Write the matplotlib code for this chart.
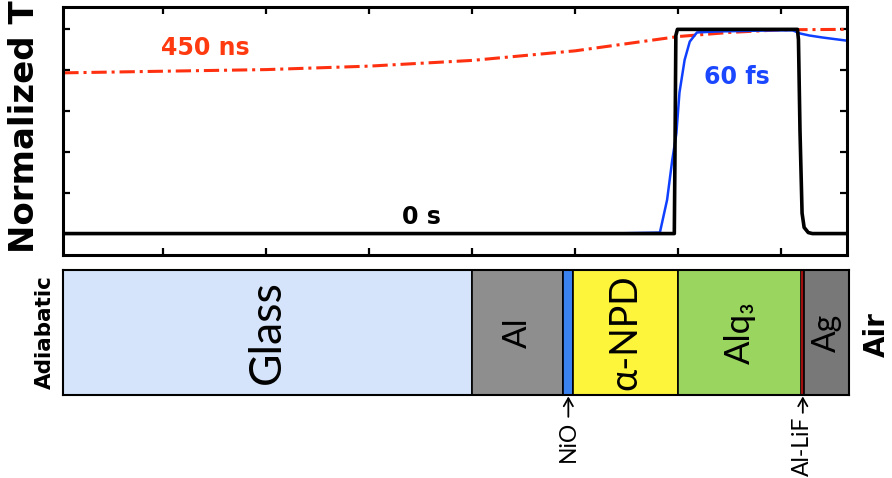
import numpy as np
import matplotlib
matplotlib.use('Agg')
import matplotlib.pyplot as plt

# temperature profiles (normalized T) across the device depth
x_0s = [0.03, 5.96, 5.965, 5.975, 5.99, 7.155, 7.165, 7.18, 7.20, 7.22, 7.26, 7.30, 7.64]
y_0s = [0.0, 0.0, 0.3, 0.97, 1.0, 1.0, 0.95, 0.5, 0.1, 0.03, 0.005, 0.0, 0.0]

x_60fs = [5.31, 5.82, 5.89, 5.94, 5.98, 6.01, 6.06, 6.11, 6.18, 6.4, 6.92, 7.11, 7.18, 7.27, 7.40, 7.63]
y_60fs = [0.0, 0.005, 0.165, 0.36, 0.49, 0.69, 0.85, 0.94, 0.985, 0.99, 0.995, 0.995, 0.98, 0.97, 0.96, 0.945]

x_450ns = [0.03, 1.0, 2.0, 3.0, 4.0, 5.0, 6.0, 6.5, 7.0, 7.64]
y_450ns = [0.787, 0.795, 0.803, 0.82, 0.848, 0.895, 0.965, 0.985, 0.998, 1.0]

# device layer stack
layer_names = ['Glass', 'Al', 'NiO', 'α-NPD', 'Alq₃', 'Al-LiF', 'Ag']
layer_edges = [0.03, 3.995, 4.88, 4.98, 5.995, 7.19, 7.22, 7.655]
layer_colors = ['#d5e4fa', '#8e8e8e', '#3a82f0', '#fcf53c', '#9ad55f', '#a01010', '#787878']
layer_fs = [32, 24, 0, 27, 25, 0, 23]

fig = plt.figure(figsize=(8.92, 4.78), dpi=100)
ax = fig.add_axes([0.071, 0.4665, 0.879, 0.5195])
ax2 = fig.add_axes([0.071, 0.1736, 0.881, 0.2615])

ax.plot(x_450ns, y_450ns, color='#ff3010', lw=2.2, ls=(0, (5, 1.6, 1, 1.6)))
ax.plot(x_60fs, y_60fs, color='#1040ff', lw=1.8)
ax.plot(x_0s, y_0s, color='black', lw=2.6, solid_joinstyle='round')

ax.text(1.41, 0.91, '450 ns', color='#ff3a10', fontsize=17, fontweight='bold', ha='center', va='center')
ax.text(6.57, 0.767, '60 fs', color='#1a47ff', fontsize=17, fontweight='bold', ha='center', va='center')
ax.text(3.51, 0.08, '0 s', color='black', fontsize=17, fontweight='bold', ha='center', va='center')

ax.set_xlim(0.03, 7.64)
ax.set_ylim(-0.105, 1.111)
ax.set_xticks(range(1, 8))
ax.set_yticks([0.2, 0.4, 0.6, 0.8, 1.0])
ax.tick_params(direction='in', length=5, width=1.6, top=True, right=True,
               labelbottom=False, labelleft=False)
for s in ax.spines.values():
    s.set_linewidth(2.2)

fig.text(0.028, 0.735, 'Normalized T', rotation=90, fontsize=24.5, fontweight='bold',
         ha='center', va='center')

# layers
starts = np.array(layer_edges[:-1])
widths = np.diff(layer_edges)
ax2.bar(starts, 1, width=widths, align='edge', color=layer_colors,
        edgecolor=['black', 'black', 'black', 'black', 'black', 'none', 'black'], lw=1.2)
for name, s, w, fs in zip(layer_names, starts, widths, layer_fs):
    if fs:
        ax2.text(s + w / 2, 0.5, name, rotation=90, fontsize=fs, ha='center', va='center',
                 family=['Lato', 'DejaVu Sans'])

for name, i, off in [('NiO', 2, -26), ('Al-LiF', 5, -22)]:
    xc = starts[i] + widths[i] / 2
    ax2.annotate(name, xy=(xc, 0), xycoords=('data', 'axes fraction'),
                 xytext=(0, off), textcoords='offset pixels', rotation=90,
                 ha='center', va='top', fontsize=16.5, family=['Lato', 'DejaVu Sans'],
                 arrowprops=dict(arrowstyle='->,head_length=0.35,head_width=0.2',
                                 lw=1.3, color='black', shrinkA=1, shrinkB=1))

ax2.set_xlim(0.03, 7.655)
ax2.set_ylim(0, 1)
ax2.set_xticks([])
ax2.set_yticks([])
for s in ax2.spines.values():
    s.set_linewidth(1.5)

fig.text(0.05, 0.305, 'Adiabatic', rotation=90, fontsize=15.5, fontweight='bold',
         ha='center', va='center')
fig.text(0.983, 0.30, 'Air', rotation=90, fontsize=20, fontweight='bold',
         ha='center', va='center')

fig.savefig('out.png', dpi=100)
